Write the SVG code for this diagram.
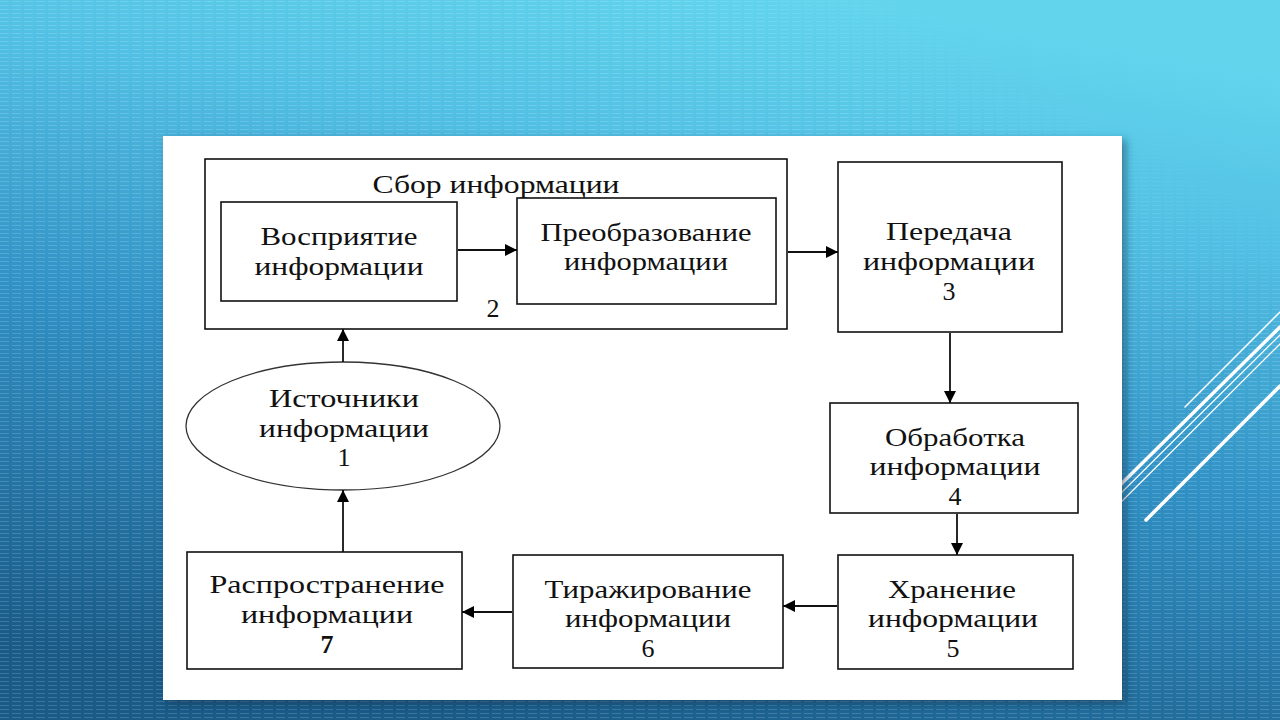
<svg xmlns="http://www.w3.org/2000/svg" width="1280" height="720" viewBox="0 0 1280 720">
<defs>
  <linearGradient id="bg" x1="0.65" y1="0" x2="0.35" y2="1">
    <stop offset="0" stop-color="#62d5ed"/>
    <stop offset="0.22" stop-color="#52c0e4"/>
    <stop offset="0.55" stop-color="#3090c4"/>
    <stop offset="1" stop-color="#195a87"/>
  </linearGradient>
  <pattern id="stripes" width="12" height="4" patternUnits="userSpaceOnUse">
    <rect x="0" y="1" width="9" height="1" fill="#ffffff"/>
  </pattern>
  <linearGradient id="fade" x1="1" y1="0" x2="0.6" y2="0.4">
    <stop offset="0" stop-color="#000"/>
    <stop offset="0.35" stop-color="#000"/>
    <stop offset="0.6" stop-color="#fff"/>
    <stop offset="1" stop-color="#fff"/>
  </linearGradient>
  <mask id="stripeMask">
    <rect width="1280" height="720" fill="url(#fade)"/>
  </mask>
  <filter id="shadow" x="-5%" y="-5%" width="110%" height="110%">
    <feDropShadow dx="4" dy="4" stdDeviation="4" flood-color="#0a2d4a" flood-opacity="0.5"/>
  </filter>
  <marker id="arr" markerUnits="userSpaceOnUse" markerWidth="13" markerHeight="13" refX="12" refY="6.5" orient="auto">
    <path d="M0,0.5 L12,6.5 L0,12.5 z" fill="#000"/>
  </marker>
  <style>
    .box { fill: #ffffff; stroke: #111; stroke-width: 1.6; }
    .t { font-family: "Liberation Serif", "DejaVu Serif", serif; font-size: 26px; fill: #111; text-anchor: middle; }
    .con { stroke: #111; stroke-width: 1.8; fill: none; marker-end: url(#arr); }
    .deco { stroke: #ffffff; fill: none; stroke-linecap: round; }
  </style>
</defs>

<!-- background -->
<rect width="1280" height="720" fill="url(#bg)"/>
<rect width="1280" height="720" fill="url(#stripes)" opacity="0.16" mask="url(#stripeMask)"/>

<!-- decorative lines -->
<g id="decor">
  <line class="deco" x1="1100" y1="505" x2="1280" y2="327" stroke-width="3.5"/>
  <line class="deco" x1="1100" y1="514" x2="1280" y2="335" stroke-width="1.3"/>
  <line class="deco" x1="1100" y1="523" x2="1280" y2="344" stroke-width="1.3"/>
  <line class="deco" x1="1185" y1="407" x2="1280" y2="312" stroke-width="1.5"/>
  <line class="deco" x1="1146" y1="520" x2="1280" y2="386" stroke-width="3.5"/>
</g>

<!-- white panel -->
<rect x="163" y="136" width="959" height="564" fill="#ffffff" filter="url(#shadow)"/>

<!-- Сбор информации (2) -->
<g id="node-sbor">
  <rect class="box" x="205" y="159" width="582" height="170"/>
  <text class="t" x="496" y="193" textLength="247" lengthAdjust="spacingAndGlyphs">Сбор информации</text>
  <text class="t" x="493" y="317">2</text>
</g>

<g id="node-vospriyatie">
  <rect class="box" x="221" y="202" width="236" height="99"/>
  <text class="t" x="339" y="245" textLength="157" lengthAdjust="spacingAndGlyphs">Восприятие</text>
  <text class="t" x="339" y="275" textLength="169" lengthAdjust="spacingAndGlyphs">информации</text>
</g>

<g id="node-preobrazovanie">
  <rect class="box" x="517" y="198" width="259" height="106"/>
  <text class="t" x="646" y="241" textLength="211" lengthAdjust="spacingAndGlyphs">Преобразование</text>
  <text class="t" x="646" y="270" textLength="164" lengthAdjust="spacingAndGlyphs">информации</text>
</g>

<g id="node-peredacha">
  <rect class="box" x="838" y="162" width="224" height="170"/>
  <text class="t" x="949" y="240" textLength="126" lengthAdjust="spacingAndGlyphs">Передача</text>
  <text class="t" x="949" y="270" textLength="172" lengthAdjust="spacingAndGlyphs">информации</text>
  <text class="t" x="949" y="300">3</text>
</g>

<g id="node-istochniki">
  <ellipse cx="343" cy="426" rx="157" ry="64" fill="#ffffff" stroke="#333" stroke-width="1.3"/>
  <text class="t" x="344" y="407" textLength="150" lengthAdjust="spacingAndGlyphs">Источники</text>
  <text class="t" x="344" y="437" textLength="170" lengthAdjust="spacingAndGlyphs">информации</text>
  <text class="t" x="344" y="466">1</text>
</g>

<g id="node-obrabotka">
  <rect class="box" x="830" y="403" width="248" height="110"/>
  <text class="t" x="955" y="446" textLength="140" lengthAdjust="spacingAndGlyphs">Обработка</text>
  <text class="t" x="955" y="475" textLength="171" lengthAdjust="spacingAndGlyphs">информации</text>
  <text class="t" x="955" y="505">4</text>
</g>

<g id="node-hranenie">
  <rect class="box" x="838" y="555" width="235" height="114"/>
  <text class="t" x="952" y="598" textLength="128" lengthAdjust="spacingAndGlyphs">Хранение</text>
  <text class="t" x="953" y="627" textLength="170" lengthAdjust="spacingAndGlyphs">информации</text>
  <text class="t" x="953" y="657">5</text>
</g>

<g id="node-tirazhirovanie">
  <rect class="box" x="513" y="555" width="270" height="113"/>
  <text class="t" x="648" y="598" textLength="207" lengthAdjust="spacingAndGlyphs">Тиражирование</text>
  <text class="t" x="648" y="627" textLength="166" lengthAdjust="spacingAndGlyphs">информации</text>
  <text class="t" x="648" y="657">6</text>
</g>

<g id="node-rasprostranenie">
  <rect class="box" x="187" y="552" width="275" height="117"/>
  <text class="t" x="327" y="593" textLength="235" lengthAdjust="spacingAndGlyphs">Распространение</text>
  <text class="t" x="327" y="623" textLength="172" lengthAdjust="spacingAndGlyphs">информации</text>
  <text class="t" x="327" y="653" font-weight="bold">7</text>
</g>

<!-- connectors -->
<g id="connectors">
  <line class="con" x1="458" y1="250" x2="517" y2="250"/>
  <line class="con" x1="788" y1="252" x2="838" y2="252" stroke="#444"/>
  <line class="con" x1="950" y1="333" x2="950" y2="403" stroke="#666" stroke-width="2.2"/>
  <line class="con" x1="957" y1="514" x2="957" y2="555"/>
  <line class="con" x1="837" y1="606" x2="783" y2="606"/>
  <line class="con" x1="512" y1="612" x2="462" y2="612"/>
  <line class="con" x1="343" y1="552" x2="343" y2="490"/>
  <line class="con" x1="343" y1="362" x2="343" y2="329"/>
</g>
</svg>
